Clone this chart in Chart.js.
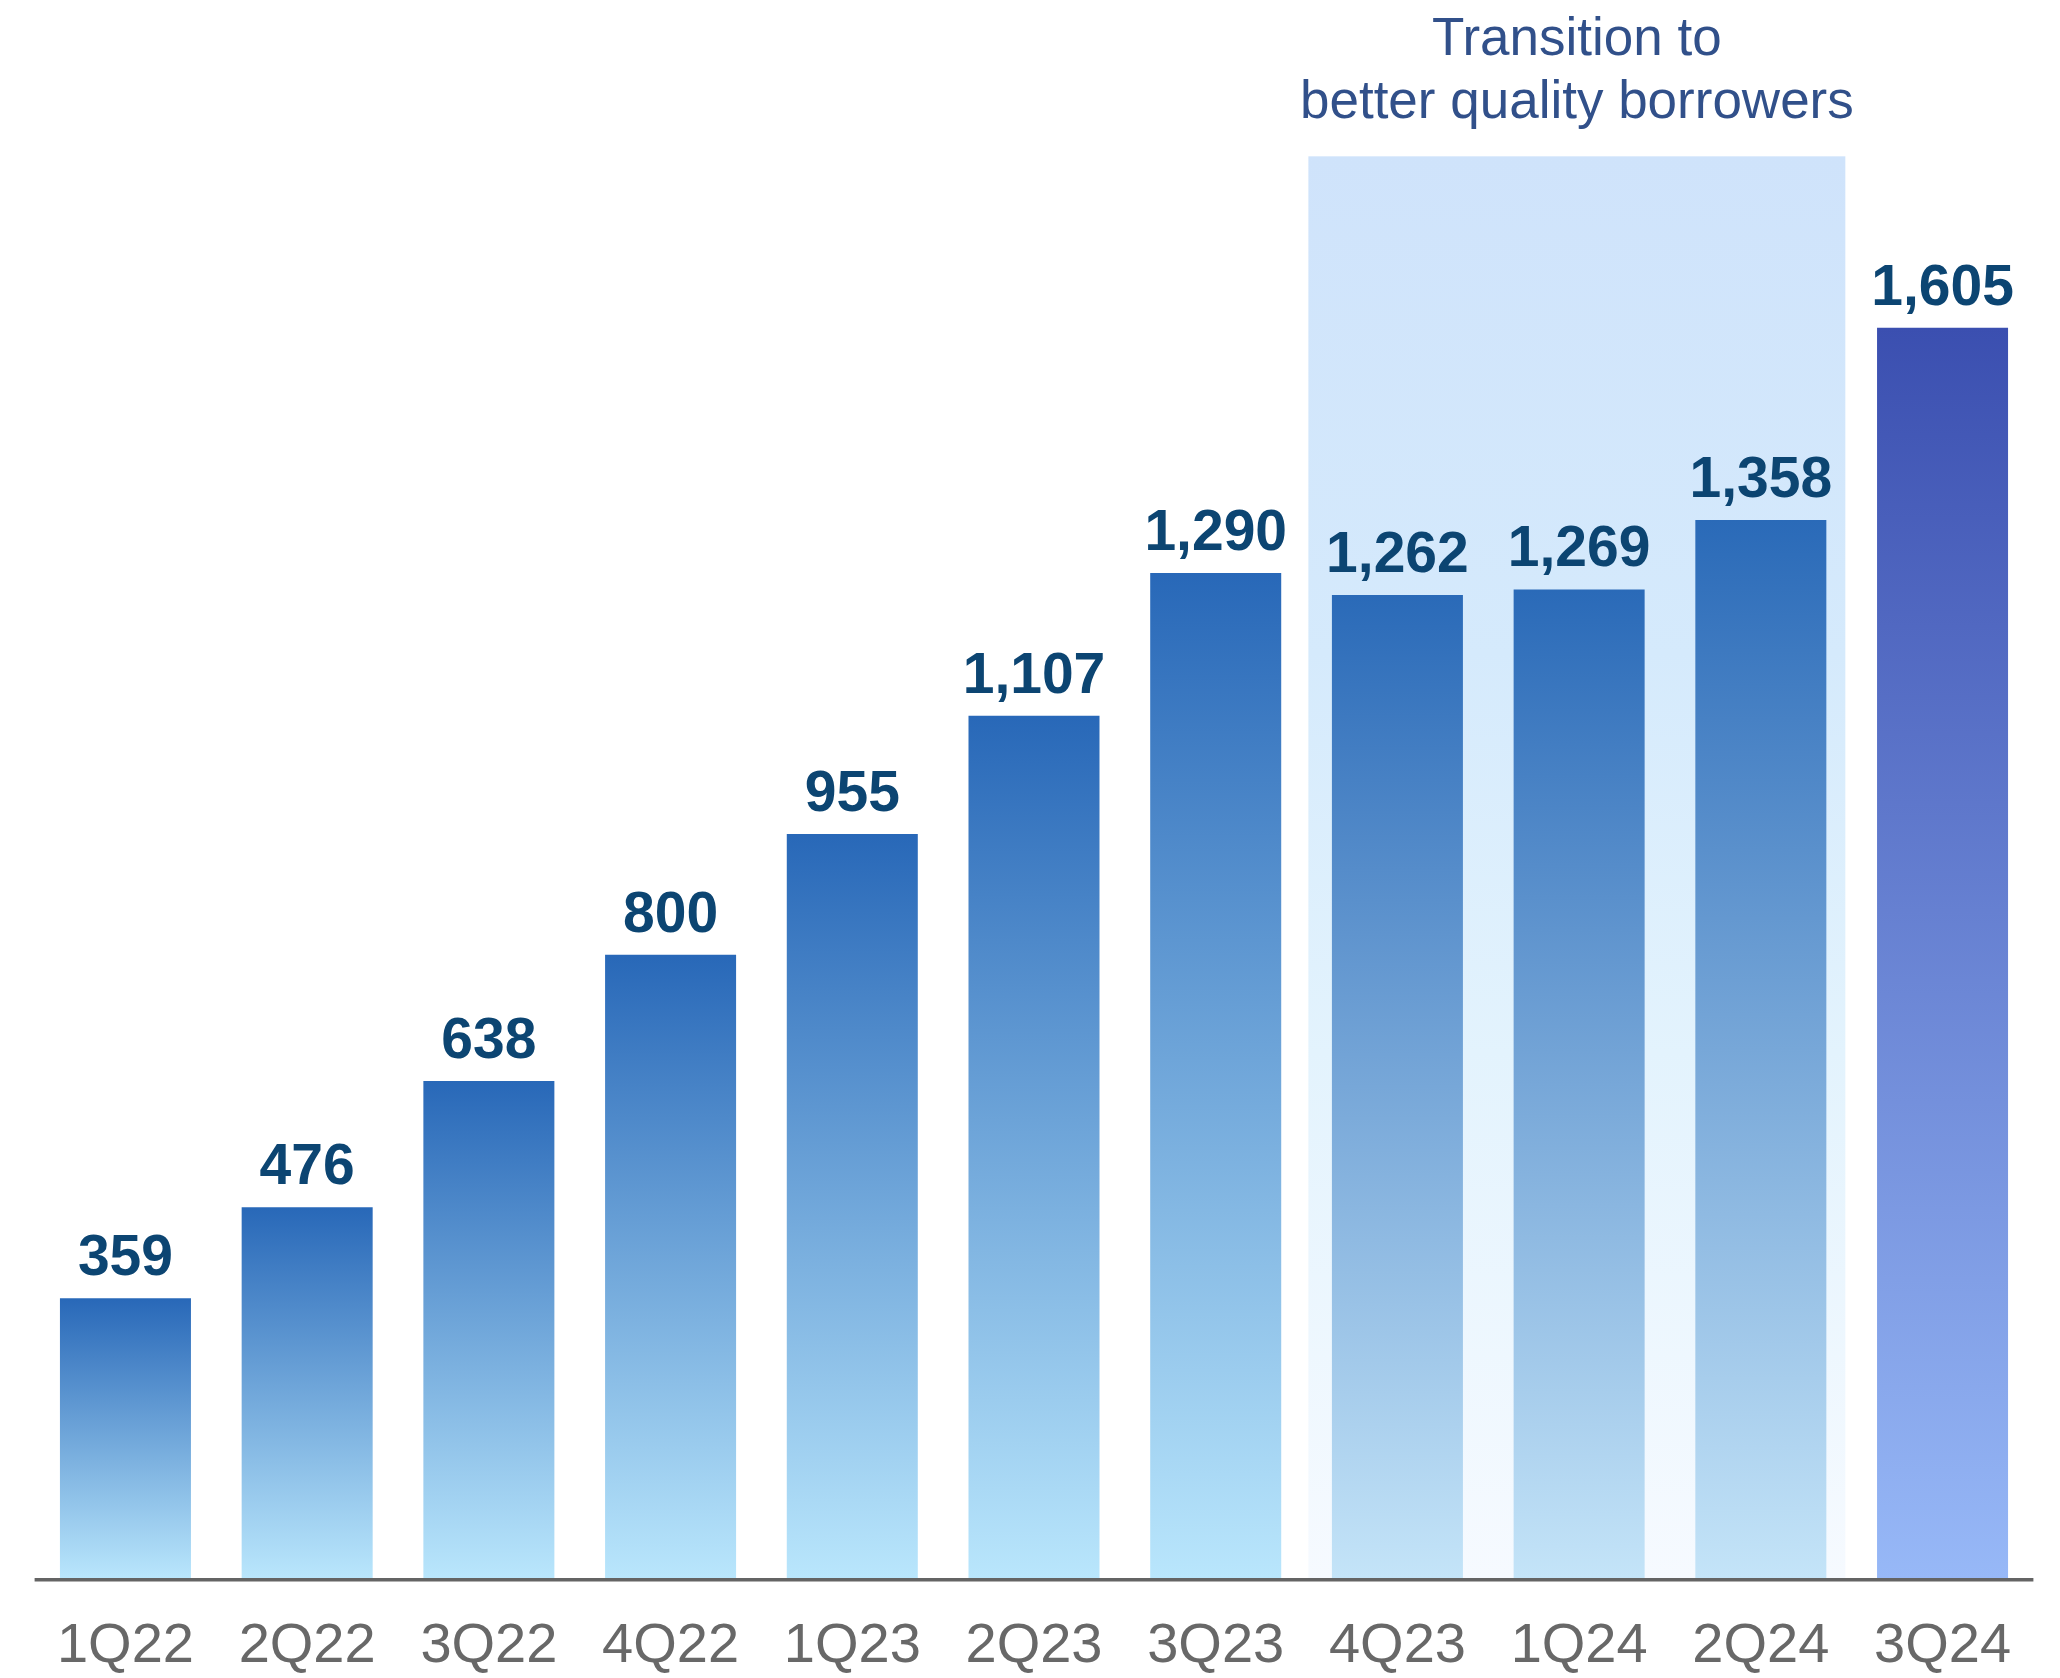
<!DOCTYPE html>
<html>
<head>
<meta charset="utf-8">
<title>Quarterly volume</title>
<script src="https://cdn.jsdelivr.net/npm/chart.js@4.4.1/dist/chart.umd.min.js"></script>
<style>
  html, body { margin: 0; padding: 0; background: #ffffff; }
  #wrap { width: 2060px; height: 1678px; position: relative; }
</style>
</head>
<body>
<div id="wrap"><canvas id="chart" width="2060" height="1678"></canvas></div>
<script>
// Quarter labels along the x axis
const quarters = ['1Q22', '2Q22', '3Q22', '4Q22', '1Q23', '2Q23', '3Q23', '4Q23', '1Q24', '2Q24', '3Q24'];
// Value per quarter (shown above each bar)
const values = [359, 476, 638, 800, 955, 1107, 1290, 1262, 1269, 1358, 1605];
// Quarters covered by the shaded "transition" band
const transitionQuarters = ['4Q23', '1Q24', '2Q24'];
const transitionCaption = ['Transition to', 'better quality borrowers'];
// Most recent quarter, drawn in its own colour
const latestQuarter = '3Q24';

const FONT = '"Liberation Sans", Arial, Helvetica, sans-serif';
const Y_MAX = 2000;
const BAND_TOP_VALUE = 1825;

function barGradient(ctx, top, bottom, c0, c1) {
  const g = ctx.createLinearGradient(0, top, 0, bottom);
  g.addColorStop(0, c0);
  g.addColorStop(1, c1);
  return g;
}

function barColour(context) {
  const chart = context.chart;
  const i = context.dataIndex;
  const yScale = chart.scales.y;
  const q = quarters[i];
  let c0 = '#2868b8', c1 = '#b9e6fc';
  if (q === latestQuarter) { c0 = '#3b4fb0'; c1 = '#97b8f7'; }
  else if (transitionQuarters.includes(q)) { c0 = '#2a6ab8'; c1 = '#c4e4f8'; }
  if (!chart.chartArea || !yScale) return c0;
  const top = yScale.getPixelForValue(values[i]);
  const bottom = yScale.getPixelForValue(0);
  return barGradient(chart.ctx, top, bottom, c0, c1);
}

// Light vertical band behind the transition quarters plus its caption
const transitionBand = {
  id: 'transitionBand',
  beforeDatasetsDraw(chart) {
    const { ctx, chartArea, scales } = chart;
    const x = scales.x, y = scales.y;
    const first = quarters.indexOf(transitionQuarters[0]);
    const last = quarters.indexOf(transitionQuarters[transitionQuarters.length - 1]);
    const step = x.getPixelForValue(1) - x.getPixelForValue(0);
    const left = x.getPixelForValue(first) - step * 0.49;
    const right = x.getPixelForValue(last) + step * 0.465;
    const top = y.getPixelForValue(BAND_TOP_VALUE);
    const bottom = chartArea.bottom;
    const g = ctx.createLinearGradient(0, top, 0, bottom);
    g.addColorStop(0, '#cfe3fb');
    g.addColorStop(0.35, '#d5eafc');
    g.addColorStop(0.63, '#e3f3fd');
    g.addColorStop(1, '#f6faff');
    ctx.save();
    ctx.fillStyle = g;
    ctx.fillRect(left, top, right - left, bottom - top);
    ctx.fillStyle = '#31508a';
    ctx.font = '53px ' + FONT;
    ctx.textAlign = 'center';
    ctx.textBaseline = 'alphabetic';
    const cx = (left + right) / 2;
    ctx.fillText(transitionCaption[0], cx, 55);
    ctx.fillText(transitionCaption[1], cx, 118);
    ctx.restore();
  }
};

// Value labels above bars and the baseline rule
const barLabels = {
  id: 'barLabels',
  afterDatasetsDraw(chart) {
    const { ctx, chartArea } = chart;
    const meta = chart.getDatasetMeta(0);
    ctx.save();
    ctx.fillStyle = '#0c4572';
    ctx.font = 'bold 57px ' + FONT;
    ctx.textAlign = 'center';
    ctx.textBaseline = 'alphabetic';
    meta.data.forEach((bar, i) => {
      ctx.fillText(values[i].toLocaleString('en-US'), bar.x, bar.y - 23);
    });
    ctx.fillStyle = '#646464';
    ctx.fillRect(chartArea.left, chartArea.bottom, chartArea.right - chartArea.left, 3.5);
    ctx.restore();
  }
};

new Chart(document.getElementById('chart'), {
  type: 'bar',
  data: {
    labels: quarters,
    datasets: [{
      data: values,
      backgroundColor: barColour,
      borderWidth: 0,
      barPercentage: 0.721,
      categoryPercentage: 1.0
    }]
  },
  options: {
    responsive: false,
    animation: false,
    devicePixelRatio: 1,
    layout: { padding: { left: 34.6, right: 26.6, top: 20, bottom: 3 } },
    plugins: {
      legend: { display: false },
      tooltip: { enabled: false },
      title: { display: false }
    },
    scales: {
      x: {
        grid: { display: false, drawTicks: false },
        border: { display: false },
        ticks: {
          color: '#686868',
          font: { family: FONT, size: 56, lineHeight: 1 },
          padding: 41,
          maxRotation: 0,
          autoSkip: false
        },
        afterFit(scale) { scale.height = 97; }
      },
      y: {
        display: false,
        min: 0,
        max: Y_MAX
      }
    }
  },
  plugins: [transitionBand, barLabels]
});
</script>
</body>
</html>
